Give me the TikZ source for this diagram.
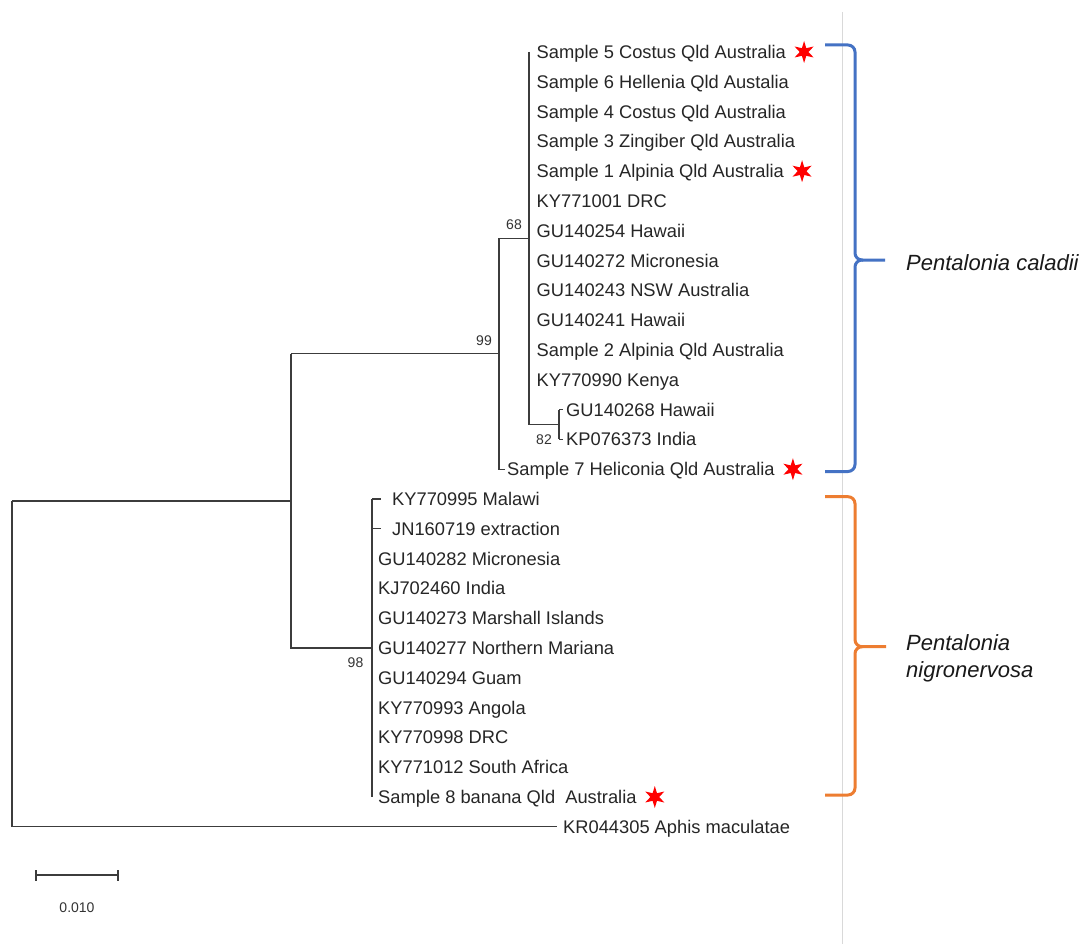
\documentclass[tikz,border=0pt]{standalone}
\usepackage{fontspec}
\setmainfont{Liberation Sans}
\usetikzlibrary{shapes.geometric}
\definecolor{treeline}{HTML}{3C3C3C}
\definecolor{braceblue}{HTML}{4472C4}
\definecolor{braceorange}{HTML}{ED7D31}
\begin{document}
\begin{tikzpicture}[x=1pt,y=-1pt,
  leaf/.style={anchor=west,inner sep=0pt,text height=13.1pt,text depth=0pt,font=\fontsize{18.3}{20}\selectfont,text=black!85},
  boot/.style={inner sep=0pt,font=\fontsize{14}{16}\selectfont,text=black!80},
  branch/.style={draw=treeline,line width=1.3pt},
  redstar/.style={star,star points=6,star point ratio=2.5,fill=red,draw=none,minimum size=22pt,inner sep=0pt},
  species/.style={anchor=west,inner sep=0pt,align=left,font=\fontsize{22}{27}\selectfont\itshape,text=black!90},
  bracelines/.style={line width=3pt,rounded corners=7pt}]
\useasboundingbox (0,0) rectangle (1081,944);
\fill[white] (0,0) rectangle (1081,944);
% separator line
\draw[gray!30,line width=1pt] (842.5,12) -- (842.5,944);
% leaves
\node[leaf] (l1) at (536.5,52) {Sample 5 Costus Qld Australia};
\node[leaf] (l2) at (536.5,81.8) {Sample 6 Hellenia Qld Austalia};
\node[leaf] (l3) at (536.5,111.6) {Sample 4 Costus Qld Australia};
\node[leaf] (l4) at (536.5,141.4) {Sample 3 Zingiber Qld Australia};
\node[leaf] (l5) at (536.5,171.2) {Sample 1 Alpinia Qld Australia};
\node[leaf] (l6) at (536.5,201) {KY771001 DRC};
\node[leaf] (l7) at (536.5,230.8) {GU140254 Hawaii};
\node[leaf] (l8) at (536.5,260.6) {GU140272 Micronesia};
\node[leaf] (l9) at (536.5,290.4) {GU140243 NSW Australia};
\node[leaf] (l10) at (536.5,320.2) {GU140241 Hawaii};
\node[leaf] (l11) at (536.5,350) {Sample 2 Alpinia Qld Australia};
\node[leaf] (l12) at (536.5,379.8) {KY770990 Kenya};
\node[leaf] (l13) at (566,409.6) {GU140268 Hawaii};
\node[leaf] (l14) at (566,439.4) {KP076373 India};
\node[leaf] (l15) at (507,469.2) {Sample 7 Heliconia Qld Australia};
\node[leaf] (l16) at (392,499) {KY770995 Malawi};
\node[leaf] (l17) at (392,528.8) {JN160719 extraction};
\node[leaf] (l18) at (378,558.6) {GU140282 Micronesia};
\node[leaf] (l19) at (378,588.4) {KJ702460 India};
\node[leaf] (l20) at (378,618.2) {GU140273 Marshall Islands};
\node[leaf] (l21) at (378,648) {GU140277 Northern Mariana};
\node[leaf] (l22) at (378,677.8) {GU140294 Guam};
\node[leaf] (l23) at (378,707.6) {KY770993 Angola};
\node[leaf] (l24) at (378,737.4) {KY770998 DRC};
\node[leaf] (l25) at (378,767.2) {KY771012 South Africa};
\node[leaf] (l26) at (378,797) {Sample 8 banana Qld\ \ Australia};
\node[leaf] (l27) at (563,826.8) {KR044305 Aphis maculatae};
% internal nodes
\coordinate (n82) at (559,424.5);
\coordinate (n68) at (529,238.2);
\coordinate (n99) at (499,353.7);
\coordinate (n98) at (372,648);
\coordinate (nin) at (291,500.9);
\coordinate (root) at (12,500.9);
% branches
\draw[branch] (l1.west -| n68) -- (n68 |- n82) -- (n82);
\draw[branch] (n82 |- l13.west) -- (n82 |- l14.west);
\draw[branch] (n82 |- l13.west) -- ++(3.5,0);
\draw[branch] (n82 |- l14.west) -- ++(3.5,0);
\draw[branch] (n99 |- n68) -- (n68);
\draw[branch] (n99 |- n68) -- (n99 |- l15.west) -- ++(6,0);
\draw[branch] (nin |- n99) -- (n99);
\draw[branch] (nin |- n99) -- (nin |- n98) -- (n98);
\draw[branch] (n98 |- l16.west) -- (n98 |- l26.west);
\draw[branch] (n98 |- l16.west) -- ++(9,0);
\draw[branch] (n98 |- l17.west) -- ++(9,0);
\draw[branch] (root) -- (nin);
\draw[branch] (root) -- (root |- l27.west) -- ++(545,0);
% bootstrap values
\node[boot] (b68) at (514,225) {68};
\node[boot] (b99) at (484,341) {99};
\node[boot] (b82) at (544,440) {82};
\node[boot] (b98) at (355.5,663) {98};
% stars
\node[redstar] (s5) at ([xshift=18pt]l1.east) {};
\node[redstar] (s1) at ([xshift=18pt]l5.east) {};
\node[redstar] (s7) at ([xshift=18pt]l15.east) {};
\node[redstar] (s8) at ([xshift=18pt]l26.east) {};
% braces
\draw[bracelines,braceblue] (825,45) -- (855,45) -- (855,260) -- (885,260);
\draw[bracelines,braceblue] (825,471.5) -- (855,471.5) -- (855,260) -- (863,260);
\draw[bracelines,braceorange] (825,496.7) -- (855,496.7) -- (855,646.7) -- (886,646.7);
\draw[bracelines,braceorange] (825,795) -- (855,795) -- (855,646.7) -- (863,646.7);
% species labels
\node[species] (pc) at (906,263) {Pentalonia caladii};
\node[species] (pn) at (906,658.5) {Pentalonia\\nigronervosa};
% scale bar
\coordinate (sbl) at (36,875);
\coordinate (sbr) at (118,875);
\draw[branch] (sbl) -- (sbr);
\draw[branch] ([yshift=-5.5pt]sbl) -- ([yshift=5.5pt]sbl);
\draw[branch] ([yshift=-5.5pt]sbr) -- ([yshift=5.5pt]sbr);
\node[boot] (sc) at (77,908) {0.010};
\end{tikzpicture}
\end{document}
